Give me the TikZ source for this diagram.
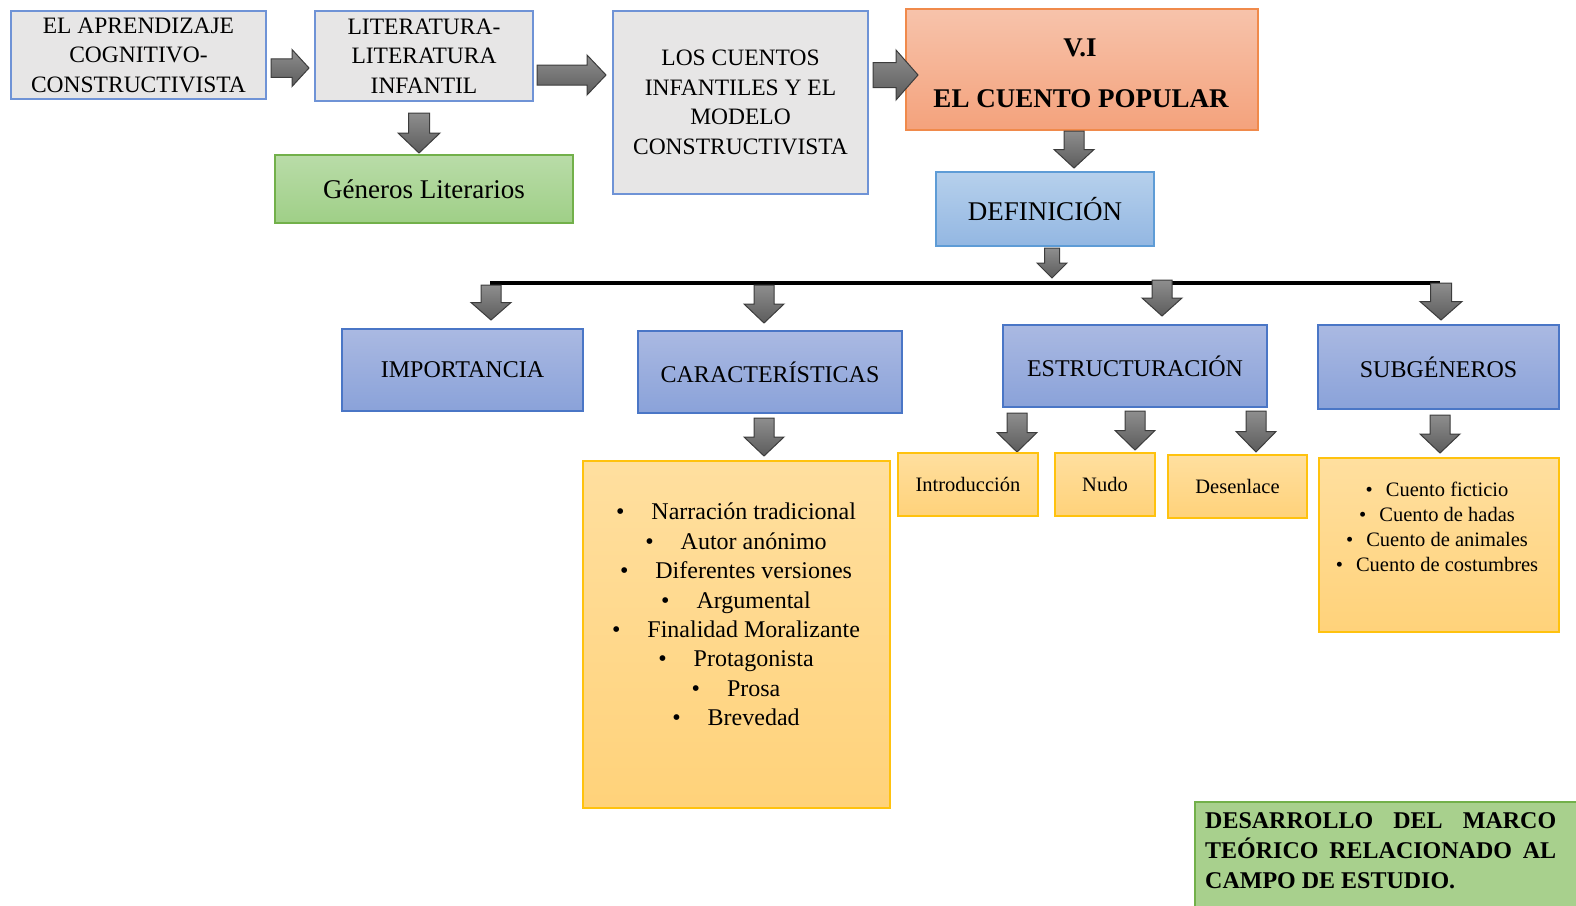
\documentclass[tikz,border=0pt]{standalone}
\usepackage{fontspec}
\setmainfont{Liberation Serif}
\usetikzlibrary{calc}
\definecolor{grayfill}{HTML}{E7E6E6}
\definecolor{grayborder}{HTML}{6F93D6}
\definecolor{gentop}{HTML}{B9DCA8}
\definecolor{genbot}{HTML}{9FCF87}
\definecolor{genborder}{HTML}{72B04A}
\definecolor{ortop}{HTML}{F7C3AB}
\definecolor{orbot}{HTML}{F4A27C}
\definecolor{orborder}{HTML}{F08A4B}
\definecolor{deftop}{HTML}{B6D0EC}
\definecolor{defbot}{HTML}{93B7E2}
\definecolor{defborder}{HTML}{5E9CD6}
\definecolor{bltop}{HTML}{AAB9E2}
\definecolor{blbot}{HTML}{8AA2D9}
\definecolor{blborder}{HTML}{4A76C6}
\definecolor{yetop}{HTML}{FFDF9F}
\definecolor{yebot}{HTML}{FFD27A}
\definecolor{yeborder}{HTML}{FFC20E}
\definecolor{dgfill}{HTML}{A8D08D}
\definecolor{arrtop}{HTML}{8E8E8E}
\definecolor{arrbot}{HTML}{5C5C5C}
\definecolor{arrborder}{HTML}{3C3C3C}
\tikzset{
  box/.style={line width=1.5pt, inner sep=0pt, align=center},
  graybox/.style={box, draw=grayborder, fill=grayfill, font=\fontsize{23.5}{29.5}\selectfont},
  genbox/.style={box, draw=genborder, top color=gentop, bottom color=genbot, font=\fontsize{27}{32}\selectfont},
  orbox/.style={box, draw=orborder, top color=ortop, bottom color=orbot},
  defbox/.style={box, draw=defborder, top color=deftop, bottom color=defbot, font=\fontsize{27}{32}\selectfont},
  blbox/.style={box, draw=blborder, top color=bltop, bottom color=blbot, font=\fontsize{24}{29}\selectfont},
  yebox/.style={box, draw=yeborder, top color=yetop, bottom color=yebot, font=\fontsize{20.5}{25}\selectfont},
  dgbox/.style={box, draw=genborder, fill=dgfill},
  arrowshape/.style={draw=arrborder, line width=1pt, top color=arrtop, bottom color=arrbot, line join=miter},
  bigitem/.style={anchor=base, inner sep=0pt, font=\fontsize{24}{29.5}\selectfont},
  smallitem/.style={anchor=base, inner sep=0pt, font=\fontsize{20.5}{25}\selectfont},
  boldtxt/.style={anchor=base, inner sep=0pt, font=\bfseries\fontsize{27}{32}\selectfont},
}
% down arrow: name, cx, top, bottom, width
\newcommand\DnArrow[5]{%
  \coordinate (#1) at (#2,#3);
  \path[arrowshape] ({#2-#5/4},#3) -- ({#2+#5/4},#3) -- ({#2+#5/4},{(#3+#4)/2}) -- ({#2+#5/2},{(#3+#4)/2}) -- (#2,#4) -- ({#2-#5/2},{(#3+#4)/2}) -- ({#2-#5/4},{(#3+#4)/2}) -- cycle;}
% right arrow: name, left, right, cy, height, headlength
\newcommand\RtArrow[6]{%
  \coordinate (#1) at (#2,#4);
  \path[arrowshape] (#2,{#4-#5/4}) -- ({#3-#6},{#4-#5/4}) -- ({#3-#6},{#4-#5/2}) -- (#3,#4) -- ({#3-#6},{#4+#5/2}) -- ({#3-#6},{#4+#5/4}) -- (#2,{#4+#5/4}) -- cycle;}
\begin{document}
\begin{tikzpicture}[x=1pt,y=-1pt]
\useasboundingbox (0,0) rectangle (1576,905);
\clip (0,0) rectangle (1576,905);
% top row
\node[graybox, minimum width=255, minimum height=88] (b1) at (138.5,55) {EL APRENDIZAJE\\COGNITIVO-\\CONSTRUCTIVISTA};
\node[graybox, minimum width=218, minimum height=90] (b2) at (424,56) {LITERATURA-\\LITERATURA\\INFANTIL};
\node[genbox, minimum width=298, minimum height=68] (gen) at (424,189) {Géneros Literarios};
\node[graybox, minimum width=255, minimum height=183] (b3) at (740.5,102.5) {LOS CUENTOS\\INFANTILES Y EL\\MODELO\\CONSTRUCTIVISTA};
\node[orbox, minimum width=352, minimum height=121] (b4) at (1082,69.5) {};
\node[boldtxt] (vi) at (1080,56) {V.I};
\node[boldtxt] (ecp) at (1081,107) {EL CUENTO POPULAR};
\node[defbox, minimum width=218, minimum height=74] (def) at (1045,209) {DEFINICIÓN};
% right arrows
\RtArrow{r1}{271}{309}{68}{37}{17}
\RtArrow{r2}{537}{606}{75}{40}{19}
\RtArrow{r3}{873}{918}{75}{50}{22}
% down arrows top
\DnArrow{agen}{419}{113}{153}{42}
\DnArrow{adef}{1074}{131}{168}{40}
\DnArrow{aline}{1052}{248}{278}{30}
% horizontal line
\coordinate (hl) at (490,283);
\coordinate (hr) at (1440,283);
\draw[line width=4pt] (hl) -- (hr);
\DnArrow{aimp}{491}{285}{320}{40}
\DnArrow{acar}{764}{285}{323}{40}
\DnArrow{aest}{1162}{280}{316}{40}
\DnArrow{asub}{1441}{283}{320}{42}
% second row
\node[blbox, minimum width=241, minimum height=82] (imp) at (462.5,370) {IMPORTANCIA};
\node[blbox, minimum width=264, minimum height=82] (car) at (770,372) {CARACTERÍSTICAS};
\node[blbox, minimum width=264, minimum height=82] (est) at (1135,366) {ESTRUCTURACIÓN};
\node[blbox, minimum width=241, minimum height=84] (sub) at (1438.5,367) {SUBGÉNEROS};
% third row arrows
\DnArrow{alst}{764}{418}{456}{40}
\DnArrow{aint}{1017}{413}{452}{40}
\DnArrow{anud}{1135}{411}{450}{40}
\DnArrow{ades}{1256}{411}{452}{40}
\DnArrow{asl}{1440}{415}{453}{40}
% third row boxes
\node[yebox, minimum width=307, minimum height=347] (lst) at (736.5,634.5) {};
\node[yebox, minimum width=140, minimum height=63] (intro) at (968,484.5) {Introducción};
\node[yebox, minimum width=100, minimum height=63] (nudo) at (1105,484.5) {Nudo};
\node[yebox, minimum width=139, minimum height=63] (desen) at (1237.5,486.5) {Desenlace};
\node[yebox, minimum width=240, minimum height=174] (sl) at (1439,545) {};
% characteristics list
\node[bigitem] (c1) at (736,519) {•\hspace{27pt}Narración tradicional};
\node[bigitem] (c2) at (736,549) {•\hspace{27pt}Autor anónimo};
\node[bigitem] (c3) at (736,578) {•\hspace{27pt}Diferentes versiones};
\node[bigitem] (c4) at (736,608) {•\hspace{27pt}Argumental};
\node[bigitem] (c5) at (736,637) {•\hspace{27pt}Finalidad Moralizante};
\node[bigitem] (c6) at (736,666) {•\hspace{27pt}Protagonista};
\node[bigitem] (c7) at (736,696) {•\hspace{27pt}Prosa};
\node[bigitem] (c8) at (736,725) {•\hspace{27pt}Brevedad};
% subgenres list
\node[smallitem] (s1) at (1437,496) {•\hspace{13pt}Cuento ficticio};
\node[smallitem] (s2) at (1437,521) {•\hspace{13pt}Cuento de hadas};
\node[smallitem] (s3) at (1437,546) {•\hspace{13pt}Cuento de animales};
\node[smallitem] (s4) at (1437,571) {•\hspace{13pt}Cuento de costumbres};
% bottom right box
\node[dgbox, minimum width=400, minimum height=120, anchor=north west] (dm) at (1194,801) {};
\node[anchor=west, inner sep=0pt, align=left, font=\bfseries\fontsize{24}{30}\selectfont] (dmt) at (1205,851)
  {\hbox to 351pt{DESARROLLO\hfill DEL\hfill MARCO}\\\hbox to 351pt{TEÓRICO\hfill RELACIONADO\hfill AL}\\CAMPO DE ESTUDIO.};
\end{tikzpicture}
\end{document}
